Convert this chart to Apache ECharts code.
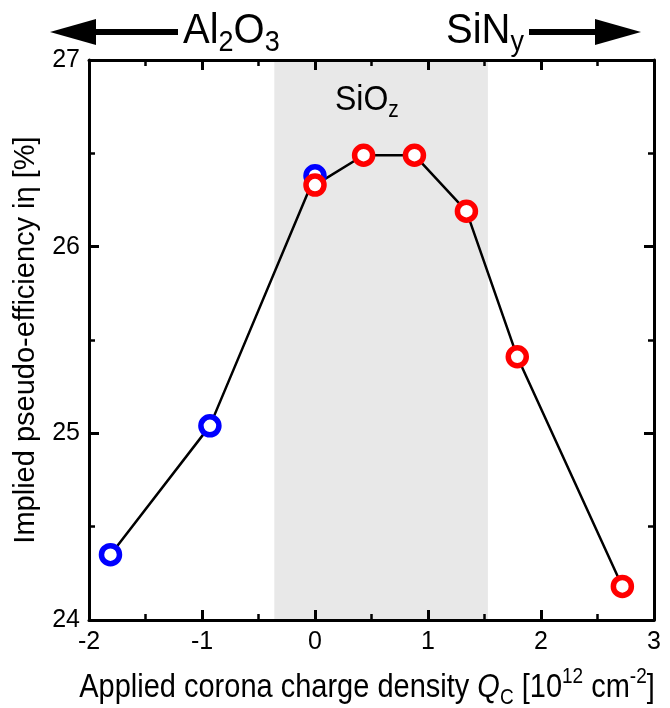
<!DOCTYPE html>
<html><head><meta charset="utf-8">
<script src="https://cdn.jsdelivr.net/npm/echarts@6/dist/echarts.min.js"></script>
<style>html,body{margin:0;padding:0;background:#fff}#c{width:670px;height:708px}</style>
</head><body><div id="c"></div>
<script>
// ---- data ----
const xTickValues = [-2, -1, 0, 1, 2, 3];
const yTickValues = [24, 25, 26, 27];
const al2o3X = [-1.81, -0.93, 0.00];
const al2o3Y = [24.35, 25.04, 26.38];
const sinyX = [0.00, 0.43, 0.88, 1.34, 1.79, 2.72];
const sinyY = [26.33, 26.49, 26.49, 26.19, 25.41, 24.18];
const sioBand = [-0.36, 1.53];

const FONT = '"Liberation Sans", Arial, Helvetica, sans-serif';
const chart = echarts.init(document.getElementById('c'), null, {renderer: 'canvas'});

const mctx = document.createElement('canvas').getContext('2d');
function fontStr(p) { return (p.italic ? 'italic ' : '') + p.size + 'px ' + FONT; }
// build rich text from pieces, left x (or centre), baseline y, vertical stretch sy
function pieces(x0, base, list, center, sy) {
  let w = 0;
  list.forEach(p => { mctx.font = fontStr(p); p.w = mctx.measureText(p.t).width; w += p.w; });
  let x = center ? x0 - w / 2 : x0;
  const out = [];
  list.forEach(p => {
    out.push({
      type: 'text', z: 50, silent: true, x: x, y: base, scaleY: sy || 1,
      style: {
        text: p.t, x: 0, y: (p.dy || 0) - 0.31 * p.size,
        font: fontStr(p), fill: '#000', textAlign: 'left', textVerticalAlign: 'middle'
      }
    });
    x += p.w;
  });
  return out;
}

const lineData = al2o3X.map((x, i) => [x, al2o3Y[i]]).concat(sinyX.map((x, i) => [x, sinyY[i]]));

function xAx(pos) {
  return {
    type: 'value', min: -2, max: 3, interval: 1, position: pos, z: 3,
    axisLine: {show: true, onZero: false, lineStyle: {color: '#000', width: 3}},
    axisTick: {show: true, inside: true, length: 10, lineStyle: {color: '#000', width: 3}},
    minorTick: {show: true, splitNumber: 2, length: 6, lineStyle: {color: '#000', width: 2.5}},
    splitLine: {show: false}, minorSplitLine: {show: false},
    axisLabel: {show: pos === 'bottom', color: '#000', fontSize: 25, fontFamily: FONT, margin: 10,
      formatter: v => xTickValues.includes(v) ? String(v) : ''}
  };
}
function yAx(pos) {
  return {
    type: 'value', min: 24, max: 27, interval: 1, position: pos, z: 3,
    axisLine: {show: true, onZero: false, lineStyle: {color: '#000', width: 3}},
    axisTick: {show: true, inside: true, length: 10, lineStyle: {color: '#000', width: 3}},
    minorTick: {show: true, splitNumber: 2, length: 6, lineStyle: {color: '#000', width: 2.5}},
    splitLine: {show: false}, minorSplitLine: {show: false},
    axisLabel: {show: pos === 'left', color: '#000', fontSize: 25, fontFamily: FONT, margin: 9,
      formatter: v => yTickValues.includes(v) ? String(v) : ''},
    name: pos === 'left' ? 'Implied pseudo-efficiency iη [%]' : '',
    nameLocation: 'middle', nameGap: 49,
    nameTextStyle: {color: '#000', fontSize: 29, fontFamily: FONT}
  };
}

const graphic = [].concat(
  // left arrow
  [{type: 'polygon', shape: {points: [[50, 32], [96, 19], [96, 45]]}, style: {fill: '#000'}},
   {type: 'rect', shape: {x: 94, y: 29, width: 84, height: 6}, style: {fill: '#000'}},
   // right arrow
   {type: 'polygon', shape: {points: [[641, 32], [595, 19], [595, 45]]}, style: {fill: '#000'}},
   {type: 'rect', shape: {x: 529, y: 29, width: 68, height: 6}, style: {fill: '#000'}}],
  pieces(183, 44, [{t: 'Al', size: 40}, {t: '2', size: 27, dy: 7}, {t: 'O', size: 40}, {t: '3', size: 27, dy: 7}], false, 1.08),
  pieces(446, 44, [{t: 'SiN', size: 40}, {t: 'y', size: 27, dy: 7}], false, 1.08),
  pieces(335, 111, [{t: 'SiO', size: 32}, {t: 'z', size: 21, dy: 6}], false, 1.1),
  pieces(367, 698, [{t: 'Applied corona charge density ', size: 29}, {t: 'Q', size: 29, italic: true},
    {t: 'C', size: 19, dy: 6}, {t: ' [10', size: 29}, {t: '12', size: 19, dy: -13},
    {t: ' cm', size: 29}, {t: '-2', size: 19, dy: -13}, {t: ']', size: 29}], true, 1.12)
);

chart.setOption({
  animation: false,
  backgroundColor: '#fff',
  grid: {left: 89, right: 16, top: 60, bottom: 88},
  xAxis: [xAx('bottom'), xAx('top')],
  yAxis: [yAx('left'), yAx('right')],
  graphic: graphic,
  series: [
    {type: 'line', data: [], z: 1, silent: true,
     markArea: {silent: true, z: 1, itemStyle: {color: '#e8e8e8'}, data: [[{xAxis: sioBand[0]}, {xAxis: sioBand[1]}]]}},
    {type: 'line', data: lineData, z: 4, symbol: 'none', lineStyle: {color: '#000', width: 2.5}},
    {type: 'scatter', name: 'Al2O3', z: 5, data: al2o3X.map((x, i) => [x, al2o3Y[i]]), symbol: 'circle', symbolSize: 18,
     itemStyle: {color: '#fff', borderColor: '#0000ff', borderWidth: 5.5, opacity: 1}},
    {type: 'scatter', name: 'SiNy', z: 6, data: sinyX.map((x, i) => [x, sinyY[i]]), symbol: 'circle', symbolSize: 18,
     itemStyle: {color: '#fff', borderColor: '#ff0000', borderWidth: 5.5, opacity: 1}}
  ]
});
</script>
</body></html>
